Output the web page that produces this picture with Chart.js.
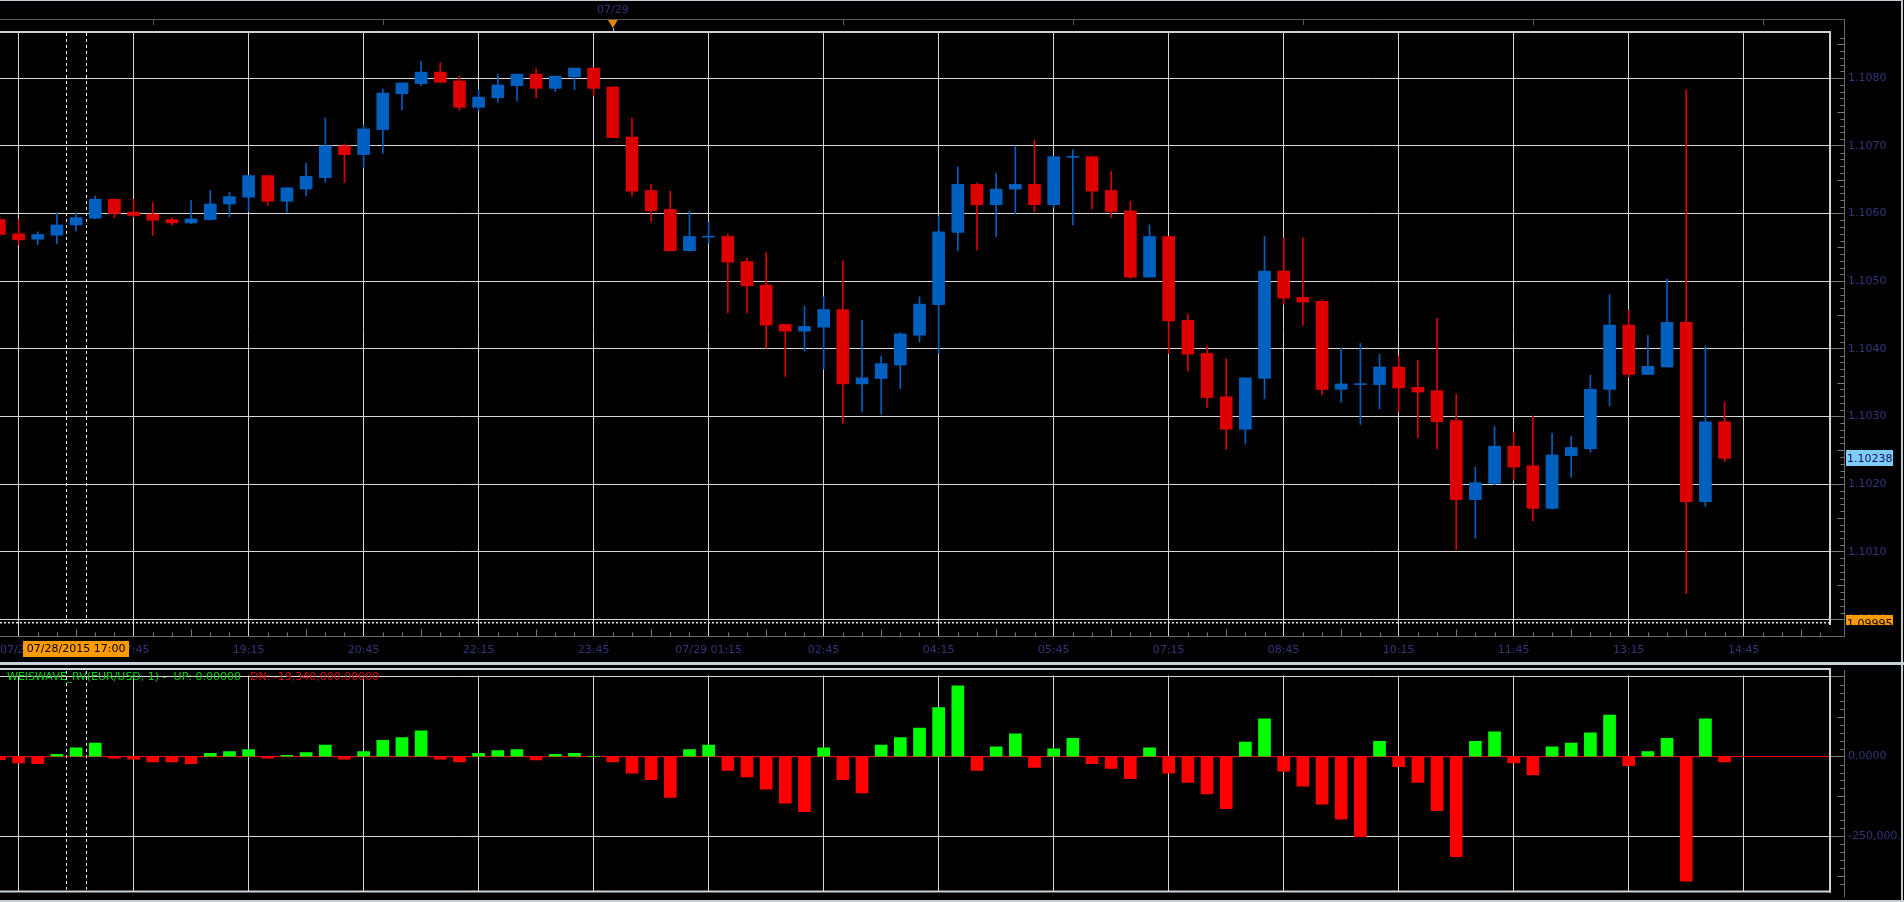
<!DOCTYPE html>
<html>
<head>
<meta charset="utf-8">
<title>EUR/USD 15 min - WEISWAVE_RV</title>
<script src="https://cdn.jsdelivr.net/npm/chart.js@4.4.0/dist/chart.umd.min.js"></script>
<style>
    html, body { margin: 0; padding: 0; background: #000; overflow: hidden; }
    #wrap { position: relative; width: 1904px; height: 902px; background: #000; }
    canvas { position: absolute; left: 0; }
    #priceCanvas { top: 0; }
    #waveCanvas { top: 665px; }
    .edge { position: absolute; background: #c4ccd4; }
</style>
</head>
<body>
<div id="wrap">
    <canvas id="priceCanvas" width="1904" height="662"></canvas>
    <canvas id="waveCanvas" width="1904" height="237"></canvas>
    <div class="edge" style="left:0;top:0;width:1904px;height:1px;"></div>
    <div class="edge" style="left:1901px;top:0;width:3px;height:902px;background:#000;"></div>
    <div class="edge" style="left:1901px;top:0;width:2px;height:902px;"></div>
    <div class="edge" style="left:0;top:662px;width:1904px;height:3px;background:#c8d0d8;"></div>
    <div class="edge" style="left:0;top:900px;width:1904px;height:2px;"></div>
</div>
<script>
// 15 min svicky EUR/USD, bar 0 = 07/28 16:00
const opens = [1.10591, 1.10570, 1.10562, 1.10568, 1.10583, 1.10593, 1.10621, 1.10602, 1.10599, 1.10591,
    1.10586, 1.10591, 1.10614, 1.10624, 1.10656, 1.10618, 1.10636, 1.10653, 1.10700, 1.10687,
    1.10724, 1.10777, 1.10792, 1.10809, 1.10796, 1.10757, 1.10771, 1.10789, 1.10806, 1.10785,
    1.10802, 1.10815, 1.10787, 1.10713, 1.10634, 1.10606, 1.10545, 1.10565, 1.10566, 1.10529,
    1.10494, 1.10436, 1.10426, 1.10432, 1.10458, 1.10348, 1.10356, 1.10376, 1.10420, 1.10465,
    1.10572, 1.10643, 1.10613, 1.10636, 1.10643, 1.10613, 1.10683, 1.10684, 1.10634, 1.10604,
    1.10506, 1.10566, 1.10442, 1.10393, 1.10329, 1.10281, 1.10356, 1.10515, 1.10476, 1.10470,
    1.10340, 1.10347, 1.10347, 1.10373, 1.10343, 1.10338, 1.10294, 1.10177, 1.10201, 1.10256,
    1.10227, 1.10164, 1.10242, 1.10252, 1.10340, 1.10435, 1.10362, 1.10373, 1.10439, 1.10174,
    1.10292];
const highs = [1.10595, 1.10591, 1.10573, 1.10601, 1.10601, 1.10626, 1.10621, 1.10621, 1.10616, 1.10594,
    1.10619, 1.10634, 1.10631, 1.10656, 1.10656, 1.10638, 1.10674, 1.10741, 1.10703, 1.10731,
    1.10784, 1.10793, 1.10825, 1.10823, 1.10803, 1.10783, 1.10806, 1.10806, 1.10814, 1.10803,
    1.10815, 1.10815, 1.10787, 1.10741, 1.10643, 1.10633, 1.10603, 1.10587, 1.10570, 1.10534,
    1.10542, 1.10436, 1.10463, 1.10477, 1.10530, 1.10442, 1.10389, 1.10424, 1.10477, 1.10596,
    1.10669, 1.10645, 1.10659, 1.10700, 1.10709, 1.10684, 1.10694, 1.10684, 1.10662, 1.10618,
    1.10583, 1.10566, 1.10451, 1.10404, 1.10385, 1.10357, 1.10566, 1.10564, 1.10564, 1.10472,
    1.10401, 1.10408, 1.10392, 1.10389, 1.10383, 1.10445, 1.10333, 1.10225, 1.10285, 1.10276,
    1.10301, 1.10275, 1.10271, 1.10361, 1.10480, 1.10457, 1.10420, 1.10503, 1.10783, 1.10404,
    1.10321];
const lows = [1.10565, 1.10554, 1.10554, 1.10555, 1.10574, 1.10592, 1.10594, 1.10595, 1.10568, 1.10583,
    1.10585, 1.10590, 1.10595, 1.10603, 1.10612, 1.10602, 1.10626, 1.10646, 1.10646, 1.10668,
    1.10689, 1.10753, 1.10789, 1.10793, 1.10753, 1.10752, 1.10764, 1.10766, 1.10771, 1.10780,
    1.10783, 1.10774, 1.10712, 1.10626, 1.10587, 1.10544, 1.10544, 1.10556, 1.10453, 1.10453,
    1.10401, 1.10359, 1.10397, 1.10370, 1.10290, 1.10307, 1.10303, 1.10341, 1.10410, 1.10393,
    1.10545, 1.10546, 1.10566, 1.10599, 1.10603, 1.10609, 1.10583, 1.10607, 1.10594, 1.10504,
    1.10506, 1.10393, 1.10367, 1.10313, 1.10252, 1.10259, 1.10326, 1.10466, 1.10435, 1.10332,
    1.10321, 1.10288, 1.10311, 1.10307, 1.10268, 1.10252, 1.10103, 1.10120, 1.10199, 1.10206,
    1.10146, 1.10163, 1.10210, 1.10247, 1.10316, 1.10358, 1.10362, 1.10373, 1.10038, 1.10167,
    1.10233];
const closes = [1.10569, 1.10561, 1.10569, 1.10583, 1.10594, 1.10621, 1.10600, 1.10597, 1.10590, 1.10586,
    1.10592, 1.10614, 1.10625, 1.10656, 1.10618, 1.10638, 1.10655, 1.10700, 1.10687, 1.10725,
    1.10778, 1.10793, 1.10809, 1.10794, 1.10757, 1.10772, 1.10790, 1.10806, 1.10785, 1.10803,
    1.10815, 1.10785, 1.10712, 1.10633, 1.10604, 1.10545, 1.10566, 1.10566, 1.10528, 1.10493,
    1.10435, 1.10426, 1.10433, 1.10458, 1.10348, 1.10357, 1.10378, 1.10422, 1.10466, 1.10573,
    1.10643, 1.10613, 1.10636, 1.10643, 1.10613, 1.10684, 1.10684, 1.10633, 1.10603, 1.10506,
    1.10566, 1.10441, 1.10392, 1.10328, 1.10281, 1.10357, 1.10515, 1.10475, 1.10469, 1.10340,
    1.10348, 1.10348, 1.10373, 1.10342, 1.10336, 1.10292, 1.10177, 1.10202, 1.10256, 1.10225,
    1.10164, 1.10243, 1.10254, 1.10340, 1.10435, 1.10362, 1.10374, 1.10439, 1.10174, 1.10292,
    1.10238];

// WEISWAVE_RV hodnoty pro kazdou svicku
const waveValues = [-9800, -19600, -22500, 6900, 27500, 42200, -4900, -7800, -16700, -16700,
    -22500, 9800, 15700, 21600, -4900, 3900, 12700, 36300, -7800, 15700,
    51000, 59800, 80400, -7800, -16700, 9800, 18600, 21600, -10800, 6900,
    9800, 0, -16700, -52000, -72500, -128400, 21600, 36300, -43100, -63700,
    -102000, -146100, -172500, 27500, -72500, -113700, 36300, 59800, 89200, 153900,
    221600, -43100, 30400, 71600, -34300, 24500, 56900, -22500, -37300, -69600,
    27500, -52000, -81400, -116700, -163700, 45100, 118600, -46100, -93100, -149000,
    -196100, -251000, 48000, -31400, -81400, -169600, -313700, 48000, 77500, -19600,
    -57800, 30400, 42200, 74500, 130400, -28400, 15700, 56900, -390200, 118600,
    -16700];

// Osy
const gridBars = [1, 7, 13, 19, 25, 31, 37, 43, 49, 55, 61, 67, 73, 79, 85, 91];
const timeLabels = ['07/28 16:15', '17:45', '19:15', '20:45', '22:15', '23:45', '07/29 01:15', '02:45',
    '04:15', '05:45', '07:15', '08:45', '10:15', '11:45', '13:15', '14:45'];
const priceTicks = [1.1000, 1.1010, 1.1020, 1.1030, 1.1040, 1.1050, 1.1060, 1.1070, 1.1080];
const waveTicks = [-250000, 0, 250000];
const waveTickLabels = ['-250,000.00000', '0.0000', ''];
const dayBar = 32;        // 07/29 00:00
const selectedBar = 4;    // 07/28/2015 17:00
const lowMarker = 1.09995;

const X_MIN = 0.031;
const X_MAX = 95.5;
const AXIS_X = 1844.5;
const LABEL_FONT = '11px "DejaVu Sans"';
const LABEL_COLOR = '#34347a';
const GRID_COLOR = '#d6d6d6';
const UP_COLOR = '#0060c0';
const DOWN_COLOR = '#dc0000';

Chart.defaults.font.family = '"DejaVu Sans"';
Chart.defaults.font.size = 11;

class TradingCharts {
    constructor() {
        this.priceChart = null;
        this.waveChart = null;
        this.init();
    }

    init() {
        this.priceChart = this.buildPriceChart();
        this.waveChart = this.buildWaveChart();
    }

    candleColors() {
        return opens.map((o, i) => closes[i] >= o ? UP_COLOR : DOWN_COLOR);
    }

    xScale(showLabels) {
        return {
            type: 'linear',
            min: X_MIN,
            max: X_MAX,
            offset: false,
            afterBuildTicks: (s) => { s.ticks = gridBars.map(v => ({ value: v })); },
            afterFit: (s) => { s.height = showLabels ? 37 : 3; },
            border: { display: false },
            grid: {
                offset: false,
                color: GRID_COLOR,
                lineWidth: 1,
                drawTicks: showLabels,
                tickLength: 11,
                tickColor: GRID_COLOR
            },
            ticks: {
                display: showLabels,
                autoSkip: false,
                maxRotation: 0,
                minRotation: 0,
                padding: 8,
                color: LABEL_COLOR,
                // prvni popisek kreslime sami zarovnany vlevo
                callback: (v, idx) => idx === 0 ? '' : timeLabels[idx]
            }
        };
    }

    buildPriceChart() {
        const colors = this.candleColors();
        const ctx = document.getElementById('priceCanvas').getContext('2d');

        return new Chart(ctx, {
            type: 'bar',
            data: {
                datasets: [{
                    label: 'body',
                    data: opens.map((o, i) => ({ x: i, y: [o, closes[i]] })),
                    backgroundColor: colors,
                    barThickness: 12,
                    minBarLength: 1,
                    grouped: false,
                    order: 1
                }, {
                    label: 'wick',
                    data: lows.map((l, i) => ({ x: i, y: [l, highs[i]] })),
                    backgroundColor: colors,
                    barThickness: 1,
                    grouped: false,
                    order: 2
                }]
            },
            options: {
                responsive: false,
                animation: false,
                devicePixelRatio: 1,
                events: [],
                layout: { padding: { top: 32, left: 0, right: 0, bottom: 0 } },
                plugins: { legend: { display: false }, tooltip: { enabled: false } },
                scales: {
                    x: this.xScale(true),
                    y: {
                        position: 'right',
                        min: 1.099916,
                        max: 1.108683,
                        afterBuildTicks: (s) => { s.ticks = priceTicks.map(v => ({ value: v })); },
                        afterFit: (s) => { s.width = 74; },
                        border: { display: false },
                        grid: { color: GRID_COLOR, tickLength: 14, tickColor: '#7a7a7a' },
                        ticks: { padding: 4, color: LABEL_COLOR, callback: v => v.toFixed(4) }
                    }
                }
            },
            plugins: [priceDecor]
        });
    }

    buildWaveChart() {
        const ctx = document.getElementById('waveCanvas').getContext('2d');

        return new Chart(ctx, {
            type: 'bar',
            data: {
                datasets: [{
                    label: 'WEISWAVE_RV',
                    data: waveValues.map((v, i) => ({ x: i, y: v })),
                    backgroundColor: waveValues.map(v => v >= 0 ? '#00ff00' : '#ff0000'),
                    barThickness: 12,
                    grouped: false
                }]
            },
            options: {
                responsive: false,
                animation: false,
                devicePixelRatio: 1,
                events: [],
                layout: { padding: { top: 4, left: 0, right: 0, bottom: 0 } },
                plugins: { legend: { display: false }, tooltip: { enabled: false } },
                scales: {
                    x: this.xScale(false),
                    y: {
                        position: 'right',
                        min: -422650,
                        max: 253800,
                        afterBuildTicks: (s) => { s.ticks = waveTicks.map(v => ({ value: v })); },
                        afterFit: (s) => { s.width = 74; },
                        border: { display: false },
                        grid: {
                            color: (c) => c.tick && c.tick.value === 0 ? '#ff0000' : GRID_COLOR,
                            tickLength: 14,
                            tickColor: '#7a7a7a'
                        },
                        ticks: {
                            padding: 4,
                            color: LABEL_COLOR,
                            callback: v => waveTickLabels[waveTicks.indexOf(v)]
                        }
                    }
                }
            },
            plugins: [waveDecor]
        });
    }
}

// Pomocne kresleni
function line(ctx, x1, y1, x2, y2, color, width) {
    ctx.strokeStyle = color;
    ctx.lineWidth = width || 1;
    ctx.beginPath();
    ctx.moveTo(x1, y1);
    ctx.lineTo(x2, y2);
    ctx.stroke();
}

function dashedMarks(chart, top, bottom) {
    const ctx = chart.ctx;
    const xs = chart.scales.x;
    const half = (xs.getPixelForValue(1) - xs.getPixelForValue(0)) / 2;
    const cx = xs.getPixelForValue(selectedBar);
    ctx.save();
    ctx.setLineDash([3, 3]);
    [cx - half, cx + half].forEach(x => {
        line(ctx, Math.round(x) + 0.5, top, Math.round(x) + 0.5, bottom, '#f0f0f0', 1);
    });
    ctx.restore();
}

function axisMinorTicks(ctx, scale, from, to, step, midEvery, skipEvery) {
    for (let k = Math.ceil(from / step); k <= Math.floor(to / step); k++) {
        if (k % skipEvery === 0) continue;
        const y = Math.round(scale.getPixelForValue(k * step)) + 0.5;
        const len = k % midEvery === 0 ? 7 : 4;
        line(ctx, AXIS_X - len, y, AXIS_X, y, '#7a7a7a', 1);
    }
}

const priceDecor = {
    id: 'priceDecor',
    afterDraw(chart) {
        const ctx = chart.ctx;
        const xs = chart.scales.x;
        const ys = chart.scales.y;
        const area = chart.chartArea;
        ctx.save();

        // horni casova lista
        line(ctx, 0, 19.5, AXIS_X, 19.5, '#5a5a5a', 1);
        for (let b = 8; b < X_MAX; b += 12) {
            const x = Math.round(xs.getPixelForValue(b)) + 0.5;
            line(ctx, x, 19.5, x, 25, '#5a5a5a', 1);
        }
        const dx = xs.getPixelForValue(dayBar);
        ctx.font = LABEL_FONT;
        ctx.fillStyle = LABEL_COLOR;
        ctx.textAlign = 'center';
        ctx.textBaseline = 'middle';
        ctx.fillText('07/29', dx, 10);
        ctx.fillStyle = '#e08a00';
        ctx.beginPath();
        ctx.moveTo(dx - 5, 20);
        ctx.lineTo(dx + 5, 20);
        ctx.lineTo(dx, 28);
        ctx.closePath();
        ctx.fill();
        line(ctx, Math.round(dx) + 0.5, 28, Math.round(dx) + 0.5, 33, '#c0c0c0', 1);

        // ramecek grafu
        line(ctx, 0, 32, area.right + 1, 32, '#ccd2d8', 2);
        line(ctx, area.right, 32, area.right, area.bottom, '#ccd2d8', 2);
        ctx.save();
        ctx.setLineDash([2, 2]);
        line(ctx, 0, ys.getPixelForValue(lowMarker), area.right, ys.getPixelForValue(lowMarker), '#e8e8e8', 1.5);
        ctx.restore();

        // prava osa + spodni osa
        line(ctx, AXIS_X, 19, AXIS_X, 637, '#6a6a6a', 1);
        line(ctx, 0, 636.5, AXIS_X, 636.5, '#6a6a6a', 1);
        axisMinorTicks(ctx, ys, ys.min, ys.max, 0.0001, 5, 10);
        for (let b = 0; b < X_MAX; b++) {
            if (gridBars.includes(b)) continue;
            const x = Math.round(xs.getPixelForValue(b)) + 0.5;
            if (x < 0) continue;
            const len = (b - 1) % 6 === 3 ? 7 : 4;
            line(ctx, x, 636.5 - len, x, 636.5, '#7a7a7a', 1);
        }

        dashedMarks(chart, 33, area.bottom - 2);

        // prvni casovy popisek (vlevo)
        ctx.font = LABEL_FONT;
        ctx.fillStyle = LABEL_COLOR;
        ctx.textAlign = 'left';
        ctx.fillText(timeLabels[0], 0, 650);

        // vybrany cas
        const sx = xs.getPixelForValue(selectedBar);
        ctx.fillStyle = '#ff9a00';
        ctx.fillRect(Math.round(sx - 53), 641, 106, 16);
        ctx.fillStyle = '#000';
        ctx.textAlign = 'center';
        ctx.fillText('07/28/2015 17:00', sx, 649.5);

        // posledni cena
        const last = closes[closes.length - 1];
        const ly = ys.getPixelForValue(last);
        ctx.fillStyle = '#80ccf8';
        ctx.fillRect(1846, Math.round(ly) - 8, 47, 16);
        ctx.fillStyle = '#10105a';
        ctx.textAlign = 'left';
        ctx.fillText(last.toFixed(5), 1847, ly + 0.5);

        // znacka 1.09995
        const my = ys.getPixelForValue(lowMarker);
        ctx.save();
        ctx.beginPath();
        ctx.rect(1846, Math.round(my) - 8, 47, 10);
        ctx.clip();
        ctx.fillStyle = '#ff9a00';
        ctx.fillRect(1846, Math.round(my) - 8, 47, 10);
        ctx.fillStyle = '#000';
        ctx.fillText(lowMarker.toFixed(5), 1847, my + 1);
        ctx.restore();

        ctx.restore();
    }
};

const waveDecor = {
    id: 'waveDecor',
    afterDraw(chart) {
        const ctx = chart.ctx;
        const ys = chart.scales.y;
        const area = chart.chartArea;
        ctx.save();

        // ramecek panelu
        line(ctx, 0, 4, area.right + 1, 4, '#ccd2d8', 2);
        line(ctx, area.right, 3, area.right, area.bottom + 1, '#ccd2d8', 2);
        line(ctx, 0, area.bottom, area.right + 1, area.bottom, '#ccd2d8', 2);

        line(ctx, AXIS_X, 5, AXIS_X, 232, '#6a6a6a', 1);
        axisMinorTicks(ctx, ys, ys.min, ys.max, 25000, 5, 10);

        dashedMarks(chart, 6, area.bottom - 2);

        // popisek indikatoru
        ctx.font = LABEL_FONT;
        ctx.textAlign = 'left';
        ctx.textBaseline = 'middle';
        const head = 'WEISWAVE_RV(EUR/USD, 1) -  UP: 0.00000';
        ctx.fillStyle = '#00d200';
        ctx.fillText(head, 7, 12);
        ctx.fillStyle = '#e00000';
        ctx.fillText('DN: -19,340,000.00000', 7 + ctx.measureText(head).width + 9, 12);

        ctx.restore();
    }
};

document.addEventListener('DOMContentLoaded', () => {
    window.tradingCharts = new TradingCharts();
});
</script>
</body>
</html>
